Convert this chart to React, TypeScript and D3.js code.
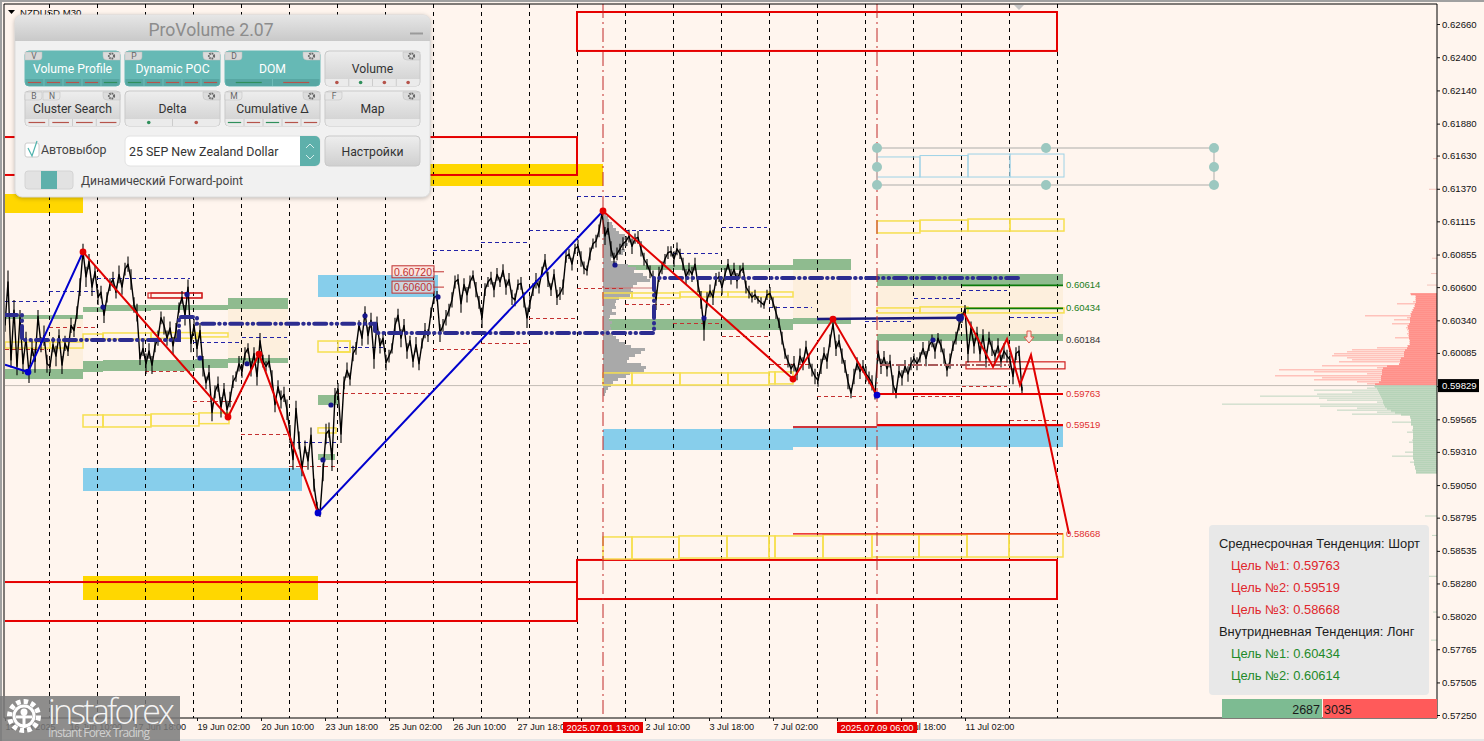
import { useEffect, useRef } from 'react'
import * as d3 from 'd3'

// right axis price labels
const priceTicks = [0.6266, 0.624, 0.6214, 0.6188, 0.6163, 0.6137, 0.61115, 0.60855, 0.606, 0.6034, 0.60085, 0.59825, 0.59565, 0.5931, 0.5905, 0.58795, 0.58535, 0.5828, 0.5802, 0.57765, 0.57505, 0.5725]
const currentPrice = 0.59829

// time labels, one every 64 bars (two of them sit under the red flags)
const timeLabels = ['13 Jun 2025', '16 Jun 10:00', '17 Jun 18:00', '19 Jun 02:00', '20 Jun 10:00', '23 Jun 18:00', '25 Jun 02:00', '26 Jun 10:00', '27 Jun 18:00', '', '2 Jul 10:00', '3 Jul 18:00', '7 Jul 02:00', '', '9 Jul 18:00', '11 Jul 02:00']
const timeFlags = [{ bar: 603, label: '2025.07.01 13:00' }, { bar: 877, label: '2025.07.09 06:00' }]

// close prices in pips, one row per day, a value every 3 bars
const priceRows = [
  [6030, 6064, 6003, 6042, 5998, 6036, 6000, 6020, 5992, 6012, 6002, 6037, 6015, 6022, 6000, 5998],
  [6015, 6006, 6022, 5999, 6016, 6010, 6030, 6026, 6040, 6060, 6088, 6068, 6080, 6060, 6072, 6052],
  [6056, 6038, 6052, 6062, 6066, 6056, 6070, 6060, 6074, 6078, 6066, 6046, 6040, 6004, 6012, 6000],
  [6010, 5999, 6014, 6020, 6036, 6030, 6020, 6028, 6014, 6026, 6044, 6052, 6038, 6060, 6016, 6030],
  [6012, 6026, 5998, 5985, 5993, 5962, 5978, 5984, 5966, 5980, 5964, 5972, 5986, 5990, 6000, 5994],
  [6008, 6012, 5996, 6008, 5990, 6018, 6002, 5998, 6002, 5988, 5968, 5982, 5972, 5976, 5964, 5945],
  [5925, 5965, 5940, 5918, 5935, 5924, 5944, 5905, 5888, 5883, 5915, 5945, 5948, 5925, 5975, 5980],
  [5945, 5985, 5995, 5988, 6008, 6012, 6030, 6020, 6040, 6022, 6034, 6004, 6032, 6014, 6020, 6001],
  [6006, 6012, 6030, 6038, 6020, 6030, 6010, 6018, 6002, 6015, 6000, 6016, 6026, 6022, 6040, 6052],
  [6053, 6024, 6030, 6036, 6042, 6050, 6064, 6066, 6047, 6062, 6054, 6064, 6069, 6058, 6048, 6036],
  [6058, 6064, 6067, 6058, 6070, 6064, 6073, 6060, 6066, 6052, 6050, 6062, 6063, 6050, 6036, 6048],
  [6058, 6065, 6060, 6072, 6081, 6066, 6058, 6070, 6052, 6055, 6060, 6084, 6086, 6078, 6090, 6092],
  [6082, 6075, 6073, 6086, 6094, 6096, 6104, 6118, 6100, 6106, 6090, 6082, 6086, 6090, 6094, 6096],
  [6100, 6092, 6098, 6099, 6090, 6082, 6078, 6072, 6067, 6050, 6070, 6075, 6082, 6087, 6088, 6082],
  [6090, 6086, 6078, 6068, 6074, 6070, 6078, 6062, 6050, 6027, 6050, 6057, 6052, 6066, 6068, 6060],
  [6070, 6078, 6068, 6074, 6065, 6072, 6075, 6060, 6056, 6052, 6054, 6050, 6048, 6046, 6054, 6055],
  [6048, 6040, 6032, 6020, 6008, 6002, 5996, 6000, 5992, 6006, 6000, 6013, 6002, 5995, 5990, 5987],
  [5998, 6008, 6002, 6018, 6031, 6012, 6018, 6006, 5998, 5986, 5977, 5990, 6000, 5994, 5998, 5992],
  [5989, 5985, 5976, 6010, 5998, 6005, 5996, 6002, 5984, 5977, 5994, 5989, 5998, 5992, 6000, 6004],
  [6000, 6005, 6012, 6004, 6014, 6018, 6010, 6020, 6014, 6006, 5995, 6002, 6014, 6020, 6030, 6036],
  [6043, 6008, 6028, 6014, 6024, 6008, 6022, 6004, 6020, 6012, 6006, 6014, 6002, 6010, 6006, 6003],
  [5990, 6008, 6010, 5979],
]
// half range of the bars around each close, in pips
const wickRows = [
  [5, 9, 6, 8, 7, 6, 8, 5, 7, 6, 9, 5, 6, 8, 7, 5],
  [6, 8, 5, 7, 6, 4, 6, 5, 5, 7, 6, 8, 6, 7, 5, 6],
  [5, 6, 4, 5, 6, 5, 7, 6, 5, 6, 8, 6, 7, 5, 6, 8],
  [6, 7, 5, 6, 5, 7, 6, 5, 7, 6, 4, 5, 8, 6, 7, 5],
  [7, 6, 8, 5, 6, 7, 5, 6, 8, 5, 7, 6, 5, 4, 6, 5],
  [5, 4, 6, 5, 7, 6, 5, 4, 5, 7, 6, 5, 7, 6, 8, 7],
  [8, 6, 7, 6, 5, 7, 6, 5, 4, 3, 7, 8, 6, 9, 6, 5],
  [7, 5, 6, 5, 6, 5, 4, 6, 5, 7, 6, 8, 5, 6, 5, 6],
  [5, 4, 6, 5, 7, 5, 6, 4, 5, 6, 5, 4, 6, 5, 4, 5],
  [4, 7, 5, 6, 5, 6, 5, 4, 7, 5, 6, 5, 4, 6, 5, 8],
  [5, 4, 5, 6, 5, 4, 5, 6, 5, 6, 5, 4, 5, 6, 8, 5],
  [5, 6, 5, 4, 5, 6, 5, 4, 6, 5, 6, 5, 4, 5, 4, 5],
  [6, 5, 4, 5, 4, 5, 5, 4, 7, 5, 6, 5, 5, 4, 5, 4],
  [5, 6, 4, 5, 6, 5, 4, 5, 6, 8, 6, 5, 4, 5, 4, 6],
  [5, 4, 5, 6, 5, 6, 5, 6, 7, 9, 6, 5, 6, 5, 4, 6],
  [5, 4, 6, 5, 6, 5, 4, 5, 5, 4, 4, 3, 4, 3, 4, 5],
  [4, 5, 4, 5, 4, 5, 4, 6, 5, 6, 5, 5, 6, 5, 6, 5],
  [6, 5, 6, 5, 4, 6, 5, 6, 5, 6, 4, 6, 5, 6, 5, 6],
  [5, 6, 4, 8, 6, 5, 6, 5, 7, 4, 5, 6, 5, 6, 5, 4],
  [5, 4, 5, 6, 4, 5, 6, 4, 5, 6, 5, 6, 4, 5, 4, 4],
  [3, 7, 5, 6, 5, 6, 5, 7, 5, 6, 5, 6, 5, 6, 5, 6],
  [6, 5, 4, 3],
]

// zones: [from bar, to bar, top price, bottom price]
const greenZones = [
  [5, 83, 0.60382, 0.60347], [5, 83, 0.59958, 0.5988], [83, 103, 0.60444, 0.60405], [103, 151, 0.60458, 0.6041],
  [151, 228, 0.6046, 0.60421], [228, 288, 0.60515, 0.60429], [83, 103, 0.60022, 0.59935], [103, 195, 0.6003, 0.59943],
  [195, 228, 0.60037, 0.59966], [228, 288, 0.60045, 0.60006], [318, 338, 0.59755, 0.59677], [318, 335, 0.59294, 0.59247],
  [627, 793, 0.60773, 0.60734], [793, 851, 0.6082, 0.60734], [603, 793, 0.6035, 0.60264], [793, 851, 0.60358, 0.60311],
  [877, 1063, 0.60703, 0.60609], [877, 1063, 0.60233, 0.60178],
]
const beigeZones = [[5, 83, 0.60347, 0.59958], [228, 288, 0.60429, 0.60045], [793, 851, 0.60734, 0.60358], [877, 1063, 0.60609, 0.60233]]
const blueZones = [[318, 438, 0.60695, 0.60523], [83, 302, 0.59184, 0.59004], [603, 793, 0.5949, 0.59324], [793, 1063, 0.59513, 0.59348]]
const goldZones = [[5, 83, 0.61329, 0.6118], [430, 603, 0.61564, 0.61392], [83, 318, 0.58338, 0.5815]]
const redBoxes = [[0, 577, 0.61775, 0.61478], [577, 1057, 0.62754, 0.62449], [0, 577, 0.58291, 0.57986], [577, 1057, 0.58464, 0.58158]]
const thinRedBoxes = [[148, 202, 0.60554, 0.60515], [151, 202, 0.60554, 0.60515], [966, 1065, 0.60015, 0.5996]]
const yellowBoxes = [
  [5, 50, 0.6017, 0.60123], [50, 83, 0.6017, 0.60123], [83, 103, 0.60233, 0.60194], [103, 151, 0.60241, 0.60194], [151, 197, 0.60244, 0.602], [197, 228, 0.60241, 0.6021],
  [83, 103, 0.59599, 0.59505], [103, 151, 0.59599, 0.59505], [151, 199, 0.59607, 0.59513], [199, 229, 0.59615, 0.59531],
  [318, 350, 0.60178, 0.60092], [338, 350, 0.60178, 0.60092], [318, 336, 0.59498, 0.59458],
  [603, 632, 0.60554, 0.60515], [632, 680, 0.60554, 0.60515], [680, 728, 0.60562, 0.60523], [728, 769, 0.60562, 0.60523], [769, 793, 0.60562, 0.60523],
  [603, 632, 0.59928, 0.59834], [632, 680, 0.59928, 0.59834], [680, 728, 0.59928, 0.59834], [728, 769, 0.59928, 0.59834], [769, 775, 0.59936, 0.59842], [775, 793, 0.59936, 0.59842],
  [877, 920, 0.61118, 0.61024], [920, 968, 0.61125, 0.61039], [968, 1010, 0.61133, 0.61039], [1010, 1064, 0.61133, 0.61039],
  [877, 920, 0.60437, 0.60398], [920, 968, 0.60445, 0.60398], [968, 1064, 0.60437, 0.60398],
  [603, 632, 0.58644, 0.58471], [632, 679, 0.58644, 0.58471], [679, 727, 0.58652, 0.58479], [727, 769, 0.58652, 0.58479], [769, 775, 0.58652, 0.58479], [775, 823, 0.58652, 0.58479],
  [823, 872, 0.5866, 0.58479], [872, 919, 0.5866, 0.58487], [919, 967, 0.5866, 0.58487], [967, 1009, 0.58668, 0.58487], [1009, 1063, 0.58668, 0.58487],
]
const skyBoxes = [[877, 920, 0.61619, 0.61462], [920, 968, 0.6163, 0.61462], [968, 1010, 0.61642, 0.61462], [1010, 1064, 0.61642, 0.61462]]

// dashed daily levels: [from bar, to bar, price]
const blueLevels = [
  [5, 48, 0.60484], [49, 97, 0.60562], [97, 190, 0.60671], [193, 239, 0.60163], [242, 287, 0.60202], [290, 337, 0.59387], [337, 385, 0.60131], [433, 480, 0.60883],
  [481, 527, 0.60953], [529, 575, 0.61047], [577, 625, 0.61313], [625, 670, 0.61047], [673, 718, 0.6086], [722, 767, 0.61063], [769, 812, 0.60437], [865, 912, 0.60327], [914, 960, 0.60507], [962, 1007, 0.6057], [1010, 1057, 0.60366],
]
const redLevels = [
  [5, 48, 0.60108], [49, 96, 0.6028], [145, 190, 0.59943], [193, 237, 0.59701], [241, 288, 0.5945], [289, 337, 0.59192], [337, 430, 0.59771], [433, 478, 0.60108], [481, 527, 0.60155],
  [529, 575, 0.60358], [577, 625, 0.60593], [625, 670, 0.6046], [673, 720, 0.60319], [722, 768, 0.60217], [770, 812, 0.59998], [817, 862, 0.5974], [914, 960, 0.5974], [962, 1007, 0.59818], [1010, 1057, 0.59552],
]

// trend pivots: [bar, price]
const bluePivots = [[[5, 0.59992], [28, 0.59935], [83, 0.60875]], [[318, 0.58832], [603, 0.61196]]]
const redPivots = [
  [[83, 0.60875], [228, 0.59583], [259, 0.60076], [318, 0.58832]],
  [[603, 0.61196], [793, 0.5988], [833, 0.6035], [877, 0.59755]],
  [[964, 0.60397], [993, 0.59975], [1007, 0.60194], [1020, 0.59834], [1031, 0.60069], [1069, 0.58668]],
]
const redMarkers = [[83, 0.60875], [228, 0.59583], [259, 0.60076], [603, 0.61196], [793, 0.5988], [833, 0.6035]]
const blueMarkers = [[28, 0.59935], [318, 0.58832], [877, 0.59755]]
const navyDots = [[103, 0.60444], [187, 0.60543], [200, 0.60045], [247, 0.6], [331, 0.59677], [323, 0.59247], [365, 0.60375], [438, 0.60523], [615, 0.60773], [704, 0.60358], [933, 0.60186]]

const pocLine = [[5, 0.60382], [22, 0.60382], [22, 0.60186], [179, 0.60186], [179, 0.60366], [197, 0.60366], [197, 0.60313], [375, 0.60313], [375, 0.60241], [654, 0.60241], [654, 0.60671], [1018, 0.60671]]
const navyLine = [[817, 0.6035], [962, 0.6036]]
const brownLine = [[880, 0.5999], [1010, 0.5999]]

// targets: [from bar, to bar, price]
const redTargets = [[877, 1063, 0.59763], [877, 1063, 0.59519]]
const thinRedTargets = [[793, 877, 0.59505], [793, 1063, 0.58668]]
const greenTargets = [[962, 1063, 0.60614], [966, 1063, 0.60434]]
const targetLabels = [
  { price: 0.60614, text: '0.60614', color: '#1a7d1a' },
  { price: 0.60434, text: '0.60434', color: '#1a7d1a' },
  { price: 0.60184, text: '0.60184', color: '#333' },
  { price: 0.59763, text: '0.59763', color: '#e03030' },
  { price: 0.59519, text: '0.59519', color: '#e03030' },
  { price: 0.58668, text: '0.58668', color: '#e03030' },
]
const priceTags = [0.6072, 0.606]

// ruler
const rulerBars = [877, 1046, 1214]
const rulerPrices = [0.61689, 0.6154, 0.614]

// session profile at 1 Jul, lengths top down
const sessionProfile = [3, 5, 6, 9, 10, 13, 16, 22, 24, 21, 25, 18, 22, 20, 14, 8, 14, 25, 33, 31, 40, 44, 47, 34, 30, 28, 30, 27, 16, 13, 12, 13, 9, 13, 7, 6, 9, 7, 8, 6, 10, 13, 16, 22, 28, 42, 38, 32, 26, 24, 38, 43, 41, 27, 23, 15, 10, 8, 5, 3, 2]

// right side market profile, top down
const sellSpikes = [27, 22, 22, 22, 24, 40, 23, 24, 25, 26, 27, 72, 30, 43, 27, 45, 30, 31, 30, 29, 30, 29, 42, 28, 28, 28, 30, 60, 85, 90, 103, 105, 90, 85, 98, 36, 115, 60, 158, 123, 70, 162, 115, 123, 80, 70]
const sellBody = [26, 21, 21, 21, 21, 22, 22, 23, 24, 25, 26, 26, 27, 27, 27, 28, 29, 29, 28, 28, 28, 28, 28, 27, 27, 27, 29, 30, 32, 33, 33, 33, 36, 37, 37, 38, 50, 54, 55, 55, 55, 56, 56, 56, 58, 62]
const buySpikes = [63, 70, 123, 85, 120, 177, 118, 110, 60, 215, 117, 80, 100, 60, 85, 27, 27, 26, 45, 26, 24, 24, 25, 30, 24, 24, 24, 25, 28, 24, 24, 24, 24, 32, 24, 45, 24, 23, 27, 23, 22, 22, 21, 21]
const buyBody = [62, 60, 59, 58, 57, 56, 55, 54, 54, 53, 52, 50, 46, 42, 36, 27, 26, 26, 26, 26, 24, 24, 24, 24, 24, 24, 24, 24, 24, 24, 24, 24, 24, 24, 24, 24, 24, 23, 23, 23, 22, 22, 21, 21]
const profileStep = 0.0001566
// far tail of the profile along the axis: [price, length]
const upperTail = [[0.6161, 4], [0.6137, 8], [0.6083, 5], [0.6071, 6], [0.6062, 10]]
const lowerTail = [[0.58812, 12], [0.5866, 5], [0.5834, 9], [0.5806, 4], [0.5784, 6]]

// bottom right summary
const summaryRows = [
  { text: 'Среднесрочная Тенденция: Шорт', color: '#1c1c1c', indent: 0 },
  { text: 'Цель №1: 0.59763', color: '#e0262c', indent: 12 },
  { text: 'Цель №2: 0.59519', color: '#e0262c', indent: 12 },
  { text: 'Цель №3: 0.58668', color: '#e0262c', indent: 12 },
  { text: 'Внутридневная Тенденция: Лонг', color: '#1c1c1c', indent: 0 },
  { text: 'Цель №1: 0.60434', color: '#1f8a2a', indent: 12 },
  { text: 'Цель №2: 0.60614', color: '#1f8a2a', indent: 12 },
]
const buyVolume = 2687
const sellVolume = 3035

// panel buttons
const R = '#b5534a'
const G = '#2f8f5b'
const panelButtons = [
  { label: 'Volume Profile', keys: ['V'], active: true, kind: 'line', marks: [R, R, R, R, G] },
  { label: 'Dynamic POC', keys: ['P'], active: true, kind: 'line', marks: [G, R, R, R, R] },
  { label: 'DOM', keys: ['D'], active: true, kind: 'line', marks: [G, R] },
  { label: 'Volume', keys: [], active: false, kind: 'dot', marks: [R, G, R, R] },
  { label: 'Cluster Search', keys: ['B', 'N'], active: false, kind: 'line', marks: [R, R, R, R] },
  { label: 'Delta', keys: [], active: false, kind: 'dot', marks: [G, R] },
  { label: 'Cumulative Δ', keys: ['M'], active: false, kind: 'line', marks: [G, R, G, R, R] },
  { label: 'Map', keys: ['F'], active: false, kind: 'none', marks: [] as string[] },
]

const W = 1484
const H = 741
const plotLeft = 5
const plotRight = 1437
const plotTop = 4
const plotBottom = 718

const x = d3.scaleLinear().domain([plotLeft, plotRight]).range([plotLeft, plotRight])
const y = d3.scaleLinear().domain([0.6266, 0.5725]).range([24, 715])

const pointLine = d3.line<number[]>().x(d => x(d[0])).y(d => y(d[1]))
const closes = priceRows.flat().map((p, i) => [plotLeft + i * 3, p / 10000])
const wicks = wickRows.flat()
const sessionBars = d3.range(49.5, 1060, 48)

function Zones({ rows, fill }: { rows: number[][]; fill: string }) {
  return (
    <g fill={fill} shapeRendering="crispEdges">
      {rows.map((d, i) => (
        <rect key={i} x={x(d[0])} y={y(d[2])} width={x(d[1]) - x(d[0])} height={y(d[3]) - y(d[2])} />
      ))}
    </g>
  )
}

function Boxes({ rows, stroke, width }: { rows: number[][]; stroke: string; width: number }) {
  return (
    <g fill="none" stroke={stroke} strokeWidth={width}>
      {rows.map((d, i) => (
        <rect key={i} x={x(d[0])} y={y(d[2])} width={x(d[1]) - x(d[0])} height={y(d[3]) - y(d[2])} />
      ))}
    </g>
  )
}

function Levels({ rows, stroke, dash, width }: { rows: number[][]; stroke: string; dash?: string; width: number }) {
  return (
    <g stroke={stroke} strokeWidth={width} strokeDasharray={dash} shapeRendering={dash ? 'crispEdges' : undefined}>
      {rows.map((d, i) => (
        <line key={i} x1={x(d[0])} x2={x(d[1])} y1={y(d[2])} y2={y(d[2])} />
      ))}
    </g>
  )
}

function Gear({ cx, cy }: { cx: number; cy: number }) {
  return (
    <g>
      <circle cx={cx} cy={cy} r={2.6} fill="none" stroke="#666" strokeWidth={2} strokeDasharray="1.6 0.8" />
      <circle cx={cx} cy={cy} r={1} fill="#ddd" />
    </g>
  )
}

function PanelButton({ bx, by, btn }: { bx: number; by: number; btn: (typeof panelButtons)[number] }) {
  const w = 95
  const h = 35
  const cell = w / Math.max(btn.marks.length, 1)
  return (
    <g>
      <rect x={bx} y={by} width={w} height={h} rx={4} fill={btn.active ? '#66b9b5' : 'url(#btnGrey)'} stroke={btn.active ? '#66b9b5' : '#c9c9c9'} />
      <path d={`M${bx + 0.5},${by + 28}h${w - 1}v3a4,4 0 0 1 -4,4h${-(w - 9)}a4,4 0 0 1 -4,-4z`} fill={btn.active ? '#57a7a3' : '#ebebeb'} />
      {btn.keys.map((k, i) => (
        <g key={k}>
          <path d={`M${bx + i * 18},${by + 1}h17v5a3,3 0 0 1 -3,3h-14z`} fill={btn.active ? '#d8d8d8' : '#e6e6e6'} stroke="#bdbdbd" strokeWidth={0.5} />
          <text x={bx + 9 + i * 18} y={by + 8} fontSize={8.5} fill="#666" textAnchor="middle">{k}</text>
        </g>
      ))}
      <path d={`M${bx + w},${by + 1}h-17v4a4,4 0 0 0 4,4h13z`} fill="#dcdcdc" stroke="#bdbdbd" strokeWidth={0.5} />
      <Gear cx={bx + w - 8.5} cy={by + 5} />
      <text x={bx + w / 2} y={by + 22} fontSize={12.2} fill={btn.active ? '#fff' : '#333'} textAnchor="middle">{btn.label}</text>
      {btn.marks.map((c, i) => {
        const mx = bx + cell * (i + 0.5)
        return btn.kind === 'dot' ? (
          <g key={i}>
            <circle cx={mx} cy={by + 31.5} r={1.8} fill={c} />
            {i > 0 && <line x1={bx + cell * i} x2={bx + cell * i} y1={by + 28} y2={by + 35} stroke="#ccc" />}
          </g>
        ) : (
          <g key={i}>
            <line x1={mx - Math.min(cell * 0.35, 13)} x2={mx + Math.min(cell * 0.35, 13)} y1={by + 31.5} y2={by + 31.5} stroke={c} strokeWidth={1.2} />
            {i > 0 && <line x1={bx + cell * i} x2={bx + cell * i} y1={by + 28} y2={by + 35} stroke={btn.active ? '#6fbcb8' : '#ccc'} />}
          </g>
        )
      })}
    </g>
  )
}

function Panel() {
  return (
    <g fontFamily="Roboto, sans-serif">
      <rect x={15} y={15} width={415} height={182} rx={7} fill="#f1f1f1" stroke="#dcdcdc" style={{ filter: 'drop-shadow(0 1px 2px rgba(0,0,0,0.25))' }} />
      <path d="M15,41v-19a7,7 0 0 1 7,-7h401a7,7 0 0 1 7,7v19z" fill="url(#titleGrey)" />
      <text x={211} y={35.5} fontSize={17.6} fill="#8c8c8c" textAnchor="middle">ProVolume 2.07</text>
      <line x1={410} x2={423} y1={33.5} y2={33.5} stroke="#9a9a9a" strokeWidth={2} />
      {panelButtons.map((b, i) => (
        <PanelButton key={b.label} bx={25 + (i % 4) * 100} by={51 + Math.floor(i / 4) * 40} btn={b} />
      ))}
      <rect x={25} y={143} width={14} height={14} rx={2} fill="#fff" stroke="#ccc" />
      <path d="M28,148l4,8l5,-15" fill="none" stroke="#4fb3ad" strokeWidth={1.2} />
      <text x={41} y={154} fontSize={12.4} fill="#444">Автовыбор</text>
      <rect x={125} y={136} width={195} height={30} rx={5} fill="#fff" stroke="#e2e2e2" />
      <path d="M300,136h15a5,5 0 0 1 5,5v20a5,5 0 0 1 -5,5h-15z" fill="#5eb0ab" />
      <path d="M306,148l4,-4l4,4M306,155l4,4l4,-4" fill="none" stroke="#d6ecea" />
      <text x={129} y={156} fontSize={12.4} fill="#333">25 SEP New Zealand Dollar</text>
      <rect x={325} y={136} width={95} height={30} rx={4} fill="url(#btnGrey)" stroke="#c9c9c9" />
      <text x={372.5} y={156} fontSize={12.2} fill="#333" textAnchor="middle">Настройки</text>
      <rect x={25} y={171} width={48} height={18} rx={3} fill="#e2e2e2" stroke="#d4d4d4" />
      <rect x={41} y={171} width={16} height={18} fill="#5eb0ab" />
      <text x={81} y={185} fontSize={12} fill="#444">Динамический Forward-point</text>
    </g>
  )
}

export default function App() {
  const yAxisRef = useRef<SVGGElement>(null)
  const xAxisRef = useRef<SVGGElement>(null)

  useEffect(() => {
    const yAxis = d3.axisRight(y).tickValues(priceTicks).tickSize(3).tickPadding(2).tickFormat(d => (+d).toFixed(5))
    const ya = d3.select(yAxisRef.current!).call(yAxis as any)
    ya.select('.domain').remove()
    ya.selectAll('text').attr('font-size', 9.6).attr('font-family', "'Liberation Sans', sans-serif").attr('fill', '#111')
    ya.selectAll('line').attr('stroke', '#111')

    const timeBars = timeLabels.map((_, i) => plotLeft + i * 64)
    const xAxis = d3.axisBottom(x).tickValues(timeBars).tickSize(3).tickPadding(3).tickFormat((_, i) => timeLabels[i])
    const xa = d3.select(xAxisRef.current!).call(xAxis as any)
    xa.select('.domain').remove()
    xa.selectAll('text').attr('font-size', 9.1).attr('font-family', "'Liberation Sans', sans-serif").attr('fill', '#111').attr('text-anchor', 'start')
    xa.selectAll('line').attr('stroke', '#111')
  }, [])

  return (
    <div style={{ position: 'absolute', left: 0, top: 0 }}>
      <svg width={W} height={H} style={{ display: 'block', fontFamily: "'Liberation Sans', sans-serif" }}>
        <defs>
          <clipPath id="plot">
            <rect x={plotLeft} y={plotTop} width={plotRight - plotLeft} height={plotBottom - plotTop} />
          </clipPath>
          <linearGradient id="btnGrey" x1="0" y1="0" x2="0" y2="1">
            <stop offset="0" stopColor="#eeeeee" />
            <stop offset="1" stopColor="#cfcfcf" />
          </linearGradient>
          <linearGradient id="titleGrey" x1="0" y1="0" x2="0" y2="1">
            <stop offset="0" stopColor="#e6e6e6" />
            <stop offset="1" stopColor="#c9c9c9" />
          </linearGradient>
        </defs>
        <rect width={W} height={H} fill="#fff5ee" />
        <rect width={W} height={2} fill="#a0a0a0" />
        <rect y={739} width={W} height={2} fill="#e6e6e6" />
        <rect width={2} height={H} fill="#a0a0a0" />

        <g clipPath="url(#plot)">
          <Zones rows={beigeZones} fill="#fdefdd" />
          <Zones rows={greenZones} fill="#8fbb8f" />
          <Zones rows={blueZones} fill="#87ceeb" />
          <Zones rows={goldZones} fill="#ffd700" />

          <g stroke="#000" strokeDasharray="4 4">
            {sessionBars.map(b => (
              <line key={b} x1={x(b)} x2={x(b)} y1={plotTop} y2={plotBottom} />
            ))}
          </g>
          <line x1={plotLeft} x2={plotRight} y1={y(currentPrice)} y2={y(currentPrice)} stroke="#c4bcb6" />

          {/* market profile on the right */}
          <g fill="#ffb0a8">
            {sellSpikes.map((v, i) => (
              <rect key={i} x={plotRight - v} y={y(currentPrice + 0.000025 + (sellSpikes.length - i) * profileStep)} width={v} height={1.1} />
            ))}
          </g>
          <g fill="#ff9089">
            {sellBody.map((v, i) => (
              <rect key={i} x={plotRight - v} y={y(currentPrice + 0.000025 + (sellBody.length - i) * profileStep)} width={v} height={2} />
            ))}
          </g>
          <g fill="#c4d8c4">
            {buySpikes.map((v, i) => (
              <rect key={i} x={plotRight - v} y={y(currentPrice - i * profileStep)} width={v} height={1.1} />
            ))}
          </g>
          <g fill="#b6d3b8">
            {buyBody.map((v, i) => (
              <rect key={i} x={plotRight - v} y={y(currentPrice - i * profileStep)} width={v} height={2} />
            ))}
          </g>
          <g fill="#f4c4bc">
            {upperTail.map(d => (
              <rect key={d[0]} x={plotRight - d[1]} y={y(d[0])} width={d[1]} height={1} />
            ))}
          </g>
          <g fill="#c4d8c4">
            {lowerTail.map(d => (
              <rect key={d[0]} x={plotRight - d[1]} y={y(d[0])} width={d[1]} height={1} />
            ))}
          </g>

          {/* session profile */}
          <g fill="#a9a9a9" shapeRendering="crispEdges">
            {sessionProfile.map((v, i) => (
              <rect key={i} x={x(603)} y={y(0.6118 - i * 0.000235)} width={v} height={3.1} />
            ))}
          </g>
          <line x1={x(603)} x2={x(656)} y1={y(0.60593)} y2={y(0.60593)} stroke="#c77" />

          <Levels rows={blueLevels} stroke="#2323a8" dash="4 3" width={1} />
          <Levels rows={redLevels} stroke="#c43030" dash="4 3" width={1} />

          <Boxes rows={redBoxes} stroke="#e60000" width={2} />
          <Boxes rows={thinRedBoxes} stroke="#d02020" width={1.2} />
          <Boxes rows={yellowBoxes} stroke="#f6df4f" width={1.5} />
          <Boxes rows={skyBoxes} stroke="#9ed2e6" width={1} />

          {/* black price */}
          <g stroke="#000" strokeWidth={1.1}>
            {closes.map((d, i) => (
              <line key={i} x1={x(d[0])} x2={x(d[0])} y1={y(d[1] + wicks[i] / 10000)} y2={y(d[1] - wicks[i] / 10000)} />
            ))}
          </g>
          <path d={pointLine(closes) ?? ''} fill="none" stroke="#000" strokeWidth={1.4} strokeLinejoin="round" />

          <path d={pointLine(pocLine) ?? ''} fill="none" stroke="#2c2c90" strokeWidth={4} strokeLinecap="round" strokeDasharray="12 5 0.5 5 0.5 5" />
          <path d={pointLine(navyLine) ?? ''} fill="none" stroke="#1a1a7c" strokeWidth={2.5} />
          <path d={pointLine(brownLine) ?? ''} fill="none" stroke="#a85a5a" strokeWidth={2} strokeDasharray="10 2 2 2" />

          <Levels rows={greenTargets} stroke="#0a7a0a" width={1.8} />
          <Levels rows={thinRedTargets} stroke="#e60000" width={1.3} />
          <Levels rows={redTargets} stroke="#e60000" width={2.2} />

          {/* flags */}
          <g stroke="#c02828" strokeDasharray="14 4 2 4">
            {timeFlags.map(f => (
              <line key={f.bar} x1={x(f.bar)} x2={x(f.bar)} y1={plotTop} y2={plotBottom} />
            ))}
          </g>

          {/* ruler */}
          <g stroke="#c8c4c0" strokeWidth={1.5}>
            {[rulerPrices[0], rulerPrices[2]].map(p => (
              <line key={p} x1={x(rulerBars[0])} x2={x(rulerBars[2])} y1={y(p)} y2={y(p)} />
            ))}
            {[rulerBars[0], rulerBars[2]].map(b => (
              <line key={b} x1={x(b)} x2={x(b)} y1={y(rulerPrices[0])} y2={y(rulerPrices[2])} />
            ))}
          </g>
          <g fill="#9cc8c0">
            {rulerBars.flatMap(b => rulerPrices.filter((_, i) => b !== rulerBars[1] || i !== 1).map(p => (
              <circle key={`${b}-${p}`} cx={x(b)} cy={y(p)} r={5} />
            )))}
          </g>

          {bluePivots.map((p, i) => (
            <path key={i} d={pointLine(p) ?? ''} fill="none" stroke="#0000cd" strokeWidth={2} />
          ))}
          {redPivots.map((p, i) => (
            <path key={i} d={pointLine(p) ?? ''} fill="none" stroke="#e00000" strokeWidth={2} />
          ))}
          <g fill="#15158a">
            {navyDots.map((d, i) => (
              <circle key={i} cx={x(d[0])} cy={y(d[1])} r={2.6} />
            ))}
            <circle cx={x(960)} cy={y(0.6036)} r={4} />
          </g>
          <g fill="#e60000">
            {redMarkers.map((d, i) => (
              <circle key={i} cx={x(d[0])} cy={y(d[1])} r={3.4} />
            ))}
          </g>
          <g fill="#0000cd">
            {blueMarkers.map((d, i) => (
              <circle key={i} cx={x(d[0])} cy={y(d[1])} r={3.4} />
            ))}
          </g>

          <path transform={`translate(${x(1029)},${y(0.6017)})`} d="M-2,-11h4v6h3l-5,6l-5,-6h3z" fill="#fde3dc" stroke="#e05a4a" />
          <path transform={`translate(${x(1019)},${plotTop})`} d="M-5,1h10l-5,5z" fill="#c4c4c4" />
        </g>

        {/* level labels */}
        <g fontSize={9.5}>
          {targetLabels.map(l => (
            <text key={l.text} x={x(1066)} y={y(l.price) + 3} fill={l.color}>{l.text}</text>
          ))}
        </g>
        <g>
          {priceTags.map(p => (
            <g key={p}>
              <line x1={x(434)} x2={x(444)} y1={y(p)} y2={y(p)} stroke="#c03030" />
              <rect x={x(392)} y={y(p) - 6} width={42} height={12} fill="#fbd8d4" fillOpacity={0.6} stroke="#c03030" />
              <text x={x(413)} y={y(p) + 4} fontSize={10.5} fill="#c03030" textAnchor="middle">{p.toFixed(5)}</text>
            </g>
          ))}
        </g>

        <line x1={plotLeft - 1} x2={plotLeft - 1} y1={plotTop} y2={plotBottom} stroke="#000" />
        <line x1={plotLeft - 1} x2={plotRight} y1={plotTop} y2={plotTop} stroke="#000" />
        <line x1={plotLeft - 1} x2={plotRight} y1={plotBottom} y2={plotBottom} stroke="#000" />
        <line x1={plotRight} x2={plotRight} y1={plotTop} y2={plotBottom} stroke="#000" />

        <g ref={yAxisRef} transform={`translate(${plotRight},0)`} />
        <g ref={xAxisRef} transform={`translate(0,${plotBottom})`} />

        <rect x={plotRight + 1} y={y(currentPrice) - 6.5} width={41} height={13} fill="#000" />
        <text x={plotRight + 5} y={y(currentPrice) + 3.5} fontSize={9.6} fill="#fff">{currentPrice.toFixed(5)}</text>

        {timeFlags.map(f => (
          <g key={f.label}>
            <rect x={x(f.bar) - 40} y={722} width={80} height={11} fill="#e60000" />
            <text x={x(f.bar)} y={731} fontSize={9.4} fill="#fff" textAnchor="middle">{f.label}</text>
          </g>
        ))}

        <path d="M8,10h7l-3.5,4z" fill="#000" />
        <text x={20} y={16} fontSize={9.6} fill="#111">NZDUSD,M30</text>

        <Panel />

        {/* summary box */}
        <rect x={1209} y={525} width={220} height={170} rx={4} fill="#e8e8e8" />
        <g fontSize={12.9}>
          {summaryRows.map((r, i) => (
            <text key={i} x={1219 + r.indent} y={548 + i * 22} fill={r.color}>{r.text}</text>
          ))}
        </g>
        <rect x={1222} y={699} width={100} height={19} fill="#7dbb92" />
        <rect x={1323} y={699} width={114} height={19} fill="#ff5a5a" />
        <text x={1320} y={714} fontSize={12.5} fill="#1a1a1a" textAnchor="end">{buyVolume}</text>
        <text x={1324} y={714} fontSize={12.5} fill="#1a1a1a">{sellVolume}</text>

        {/* broker logo */}
        <g fontFamily="'Open Sans', sans-serif">
          <rect x={0} y={696} width={180} height={45} fill="#7a7a7a" fillOpacity={0.85} />
          <circle cx={24} cy={716} r={14.5} fill="none" stroke="#fff" strokeWidth={5} strokeDasharray="4.5 3" />
          <circle cx={24} cy={716} r={10} fill="none" stroke="#fff" strokeWidth={3} />
          <circle cx={24} cy={712} r={3.5} fill="#fff" />
          <path d="M16,717h16M24,714v14" stroke="#fff" strokeWidth={3} />
          <text x={48} y={724} fontSize={34} fontWeight={300} fill="#fff" fillOpacity={0.92} textLength={127}>instaforex</text>
          <text x={48} y={737} fontSize={12} fill="#fff" fillOpacity={0.6} textLength={102}>Instant Forex Trading</text>
        </g>
      </svg>
    </div>
  )
}
